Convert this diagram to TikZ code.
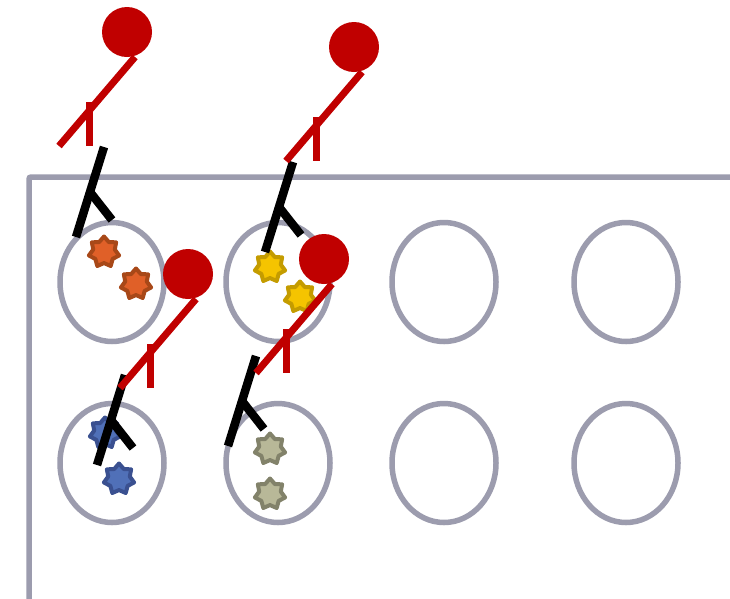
\documentclass[tikz,border=0pt]{standalone}
\usetikzlibrary{shapes.geometric}
\definecolor{plategray}{HTML}{9C9CAE}
\definecolor{hrpred}{HTML}{C00000}
\definecolor{orgfill}{HTML}{E06028}
\definecolor{orgline}{HTML}{A84818}
\definecolor{yelfill}{HTML}{F5C400}
\definecolor{yelline}{HTML}{C49C00}
\definecolor{blufill}{HTML}{5070B8}
\definecolor{bluline}{HTML}{3A5090}
\definecolor{khafill}{HTML}{B8B898}
\definecolor{khaline}{HTML}{82826A}
\tikzset{
  plate/.style={draw=plategray, line width=5.5pt},
  well/.style={ellipse, draw=plategray, line width=5.5pt, minimum width=104pt, minimum height=119pt, inner sep=0pt},
  antigen/.style={star, star points=7, star point ratio=1.4, minimum size=31pt, inner sep=0pt, line width=4pt, line join=round},
  capture/.style={draw=black, line width=8.5pt},
  detect/.style={draw=hrpred, line width=7pt},
  enzyme/.style={circle, fill=hrpred, minimum size=50pt, inner sep=0pt},
}
% one labelled detection antibody: enzyme disc, diagonal arm and short stem
\newcommand{\detector}[2]{%
  \node[enzyme] (e#1) at (#2) {};
  \draw[detect] ([shift={(8,25)}]#2) -- ([shift={(-68,114)}]#2);
  \draw[detect] ([shift={(-38,70)}]#2) -- ([shift={(-38,114)}]#2);
}
% one capture antibody: long arm with a short side branch
\newcommand{\capturer}[2]{%
  \coordinate (c#1) at (#2);
  \draw[capture] (c#1) -- ([shift={(-28,90)}]c#1);
  \draw[capture] ([shift={(-14,45)}]c#1) -- ([shift={(8,73)}]c#1);
}
\begin{document}
\begin{tikzpicture}[x=1pt, y=-1pt]
\useasboundingbox (0,0) rectangle (730,598);
\fill[white] (0,0) rectangle (730,598);
\begin{scope}
\clip (0,0) rectangle (730,598);
% plate outline
\draw[plate, rounded corners=2pt] (29,610) -- (29,177) -- (745,177);
% wells
\node[well] (w11) at (112,282) {};
\node[well] (w12) at (278,282) {};
\node[well] (w13) at (444,282) {};
\node[well] (w14) at (626,282) {};
\node[well] (w21) at (112,463) {};
\node[well] (w22) at (278,463) {};
\node[well] (w23) at (444,463) {};
\node[well] (w24) at (626,463) {};
% antigens
\node[antigen, fill=orgfill, draw=orgline] (a1) at (104,252) {};
\node[antigen, fill=orgfill, draw=orgline] (a2) at (136,284) {};
\node[antigen, fill=yelfill, draw=yelline] (a3) at (270,267) {};
\node[antigen, fill=yelfill, draw=yelline] (a4) at (300,297) {};
\node[antigen, fill=blufill, draw=bluline] (a5) at (105,433) {};
\node[antigen, fill=blufill, draw=bluline] (a6) at (119,479) {};
\node[antigen, fill=khafill, draw=khaline] (a7) at (270,449) {};
\node[antigen, fill=khafill, draw=khaline] (a8) at (270,494) {};
% capture antibodies
\capturer{1}{104,147}
\capturer{2}{293,162}
\capturer{3}{125,375}
\capturer{4}{256,356}
% detection antibodies
\detector{1}{127,32}
\detector{2}{354,47}
\detector{3}{188,274}
\detector{4}{324,259}
\end{scope}
\end{tikzpicture}
\end{document}
